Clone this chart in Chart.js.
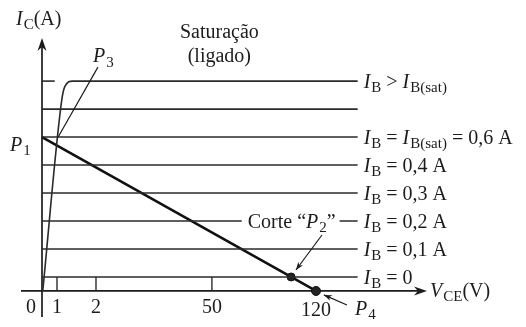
<!DOCTYPE html>
<html>
<head>
<meta charset="utf-8">
<script src="https://cdn.jsdelivr.net/npm/chart.js@4.4.1/dist/chart.umd.min.js"></script>
<style>
  html, body { margin: 0; padding: 0; background: #fff; }
</style>
</head>
<body>
<canvas id="chart" width="526" height="327"></canvas>
<script>
// VCE tick labels (V)
const vceTicks = [0, 1, 2, 50, 120];

// IB curves, top to bottom (IC in schematic units, the axis has no numbers)
const ibLabels = [
  'I_{B} > I_{B(sat)}', '', 'I_{B} = I_{B(sat)} = 0,6 A', 'I_{B} = 0,4 A',
  'I_{B} = 0,3 A', 'I_{B} = 0,2 A', 'I_{B} = 0,1 A', 'I_{B} = 0'
];
const icLevels = [7.5, 6.5, 5.5, 4.5, 3.5, 2.5, 1.5, 0.5];
const curveEndV = 148;

// load line P1 -> P4
const loadV = [0, 120];
const loadIc = [5.5, 0];

// saturation rise of the top curve
const satV = [0.05, 1.12, 1.2, 1.4, curveEndV];
const satIc = [0, 6.8, 7.3, 7.5, 7.5];

const ink = '#1c1c1c';
const serif = '"Liberation Serif", "DejaVu Serif", serif';

// the VCE axis is not to scale: every tick has its own stop on the axis
const axisStops = [0, 1, 3.6, 11.33, 18.27];
function vx(v) {
  let i = 1;
  while (i < vceTicks.length - 1 && v > vceTicks[i]) i++;
  const v0 = vceTicks[i - 1], v1 = vceTicks[i];
  const s0 = axisStops[i - 1], s1 = axisStops[i];
  return s0 + (v - v0) * (s1 - s0) / (v1 - v0);
}

const datasets = [];
icLevels.forEach((lvl, i) => {
  // top curve only has a stub at the axis, the rest comes from the saturation rise
  const end = i === 0 ? 0.85 : curveEndV;
  datasets.push({
    data: [{ x: vx(0), y: lvl }, { x: vx(end), y: lvl }],
    borderColor: '#2a2a2a', borderWidth: 1.6, pointRadius: 0
  });
});
datasets.push({
  data: satV.map((v, i) => ({ x: vx(v), y: satIc[i] })),
  borderColor: '#2a2a2a', borderWidth: 1.6, pointRadius: 0,
  cubicInterpolationMode: 'monotone'
});
// P2 sits where the load line crosses IB = 0
const cutIc = icLevels[icLevels.length - 1];
const p2x = vx(loadV[0]) + (vx(loadV[1]) - vx(loadV[0])) * (loadIc[0] - cutIc) / loadIc[0];
datasets.push({
  data: [{ x: vx(loadV[0]), y: loadIc[0] }, { x: p2x, y: cutIc }, { x: vx(loadV[1]), y: loadIc[1] }],
  borderColor: '#111', borderWidth: 2.6,
  pointRadius: [0, 4, 4.5], pointBackgroundColor: '#222', pointBorderColor: '#111', pointBorderWidth: 1
});

function line(ctx, x0, y0, x1, y1) {
  ctx.beginPath(); ctx.moveTo(x0, y0); ctx.lineTo(x1, y1); ctx.stroke();
}
function head(ctx, tx, ty, ang, len, half) {
  ctx.save();
  ctx.translate(tx, ty); ctx.rotate(ang);
  ctx.beginPath();
  ctx.moveTo(0, 0);
  ctx.lineTo(-len, -half);
  ctx.lineTo(-len * 0.7, 0);
  ctx.lineTo(-len, half);
  ctx.closePath(); ctx.fill();
  ctx.restore();
}
function arrow(ctx, x0, y0, x1, y1, len, half) {
  line(ctx, x0, y0, x1, y1);
  head(ctx, x1, y1, Math.atan2(y1 - y0, x1 - x0), len, half);
}

// text with italic symbols and subscripts: I_{B}
function rich(ctx, str, x, y, size, measureOnly) {
  const parts = str.split(/([A-Z])_\{([^}]*)\}/);
  let cx = x;
  parts.forEach((p, i) => {
    if (!p) return;
    const k = i % 3;
    let dy = 0;
    if (k === 0) ctx.font = `${size}px ${serif}`;
    else if (k === 1) ctx.font = `italic ${size}px ${serif}`;
    else { ctx.font = `${Math.round(size * 0.74)}px ${serif}`; dy = size * 0.22; }
    if (!measureOnly) ctx.fillText(p, cx, y + dy);
    cx += ctx.measureText(p).width + (k === 1 ? 1 : 0);
  });
  return cx - x;
}

const schematic = {
  id: 'schematic',
  beforeDatasetsDraw(chart) {
    const { ctx, chartArea: a, scales: { x, y } } = chart;
    const x0 = x.getPixelForValue(vx(0)), y0 = y.getPixelForValue(0);
    ctx.save();
    ctx.strokeStyle = ink; ctx.fillStyle = ink; ctx.lineWidth = 1.7;
    line(ctx, a.left, y0, a.right - 6, y0);
    head(ctx, a.right, y0, 0, 13, 4.5);
    line(ctx, x0, a.bottom, x0, a.top + 6);
    head(ctx, x0, a.top, -Math.PI / 2, 13, 4.5);
    ctx.lineWidth = 1.3;
    const yt = y.getPixelForValue(cutIc);
    vceTicks.slice(1, -1).forEach(t => {
      const px = x.getPixelForValue(vx(t));
      line(ctx, px, y0, px, yt);
    });
    ctx.restore();
  },
  afterDatasetsDraw(chart) {
    const { ctx, chartArea: a, scales: { x, y } } = chart;
    const X = v => x.getPixelForValue(vx(v));
    const Y = ic => y.getPixelForValue(ic);
    const x0 = X(0), y0 = Y(0);
    ctx.save();
    ctx.fillStyle = ink; ctx.strokeStyle = ink;
    ctx.textBaseline = 'alphabetic';

    // tick labels
    ctx.font = `20px ${serif}`; ctx.textAlign = 'center';
    vceTicks.forEach(t => {
      const px = t === 0 ? x0 - 11 : X(t);
      ctx.fillText(String(t), px, y0 + (t === 120 ? 25 : 22));
    });
    ctx.textAlign = 'left';

    // curve labels
    const lx = X(curveEndV) + 6;
    ibLabels.forEach((lab, i) => {
      if (lab) rich(ctx, lab, lx, Y(icLevels[i]) + 7, 20);
    });

    // cutoff label breaks the 0,2 A line
    const cutY = Y(icLevels[5]);
    const cut = 'Corte “P_{2}”';
    const w = rich(ctx, cut, 0, 0, 20, true);
    const cx = lx - 28 - w;
    ctx.fillStyle = '#fff';
    ctx.fillRect(cx - 6, cutY - 4, w + 10, 8);
    ctx.fillStyle = ink;
    rich(ctx, cut, cx, cutY + 7, 20);

    // axis titles
    rich(ctx, 'I_{C}(A)', x0 - 26, a.top - 13, 20);
    rich(ctx, 'V_{CE}(V)', a.right + 3, y0 + 6, 20);

    // region title
    ctx.font = `20px ${serif}`; ctx.textAlign = 'center';
    ctx.fillText('Saturação', X(55), a.top);
    ctx.fillText('(ligado)', X(55), a.top + 24);
    ctx.textAlign = 'left';

    // point names and leaders
    ctx.lineWidth = 1.2;
    rich(ctx, 'P_{1}', x0 - 32, Y(loadIc[0]) + 14, 20);
    const p3s = [X(2.8), Y(8.0)];
    line(ctx, p3s[0], p3s[1], X(1.03), Y(5.5));
    rich(ctx, 'P_{3}', p3s[0] - 5, p3s[1] - 5, 20);
    arrow(ctx, X(124), Y(2.0), X(106.5), Y(0.75), 8, 3);
    const p4s = [X(140.8), Y(-0.5)];
    arrow(ctx, p4s[0], p4s[1], X(125.3), Y(-0.14), 8, 3);
    rich(ctx, 'P_{4}', p4s[0] + 8, p4s[1] + 10, 20);
    ctx.restore();
  }
};

new Chart(document.getElementById('chart'), {
  type: 'line',
  data: { datasets },
  options: {
    responsive: false,
    animation: false,
    layout: { padding: { left: 21, right: 99, top: 38, bottom: 10 } },
    scales: {
      x: { type: 'linear', min: -1.4, max: 25.67, display: false },
      y: { type: 'linear', min: -0.93, max: 9.04, display: false }
    },
    plugins: { legend: { display: false }, tooltip: { enabled: false } }
  },
  plugins: [schematic]
});
</script>
</body>
</html>
